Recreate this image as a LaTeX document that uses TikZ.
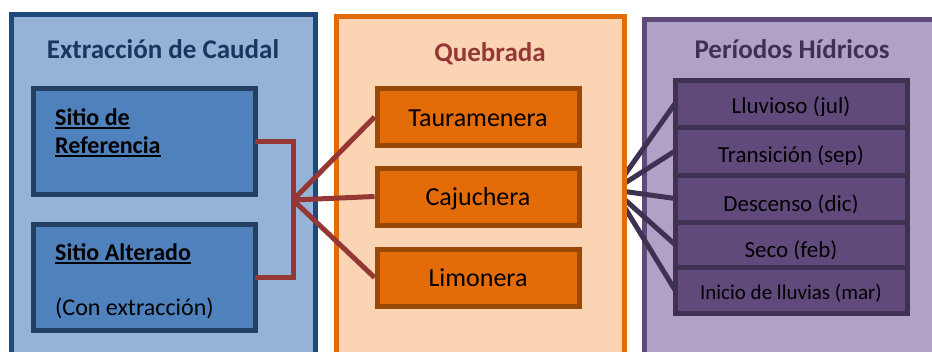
\documentclass[tikz,border=0pt]{standalone}
\usepackage{fontspec}
\setmainfont{Carlito}
\usetikzlibrary{positioning}

\definecolor{caudalfill}{HTML}{95B3D7}
\definecolor{caudalline}{HTML}{1F497D}
\definecolor{caudaltitle}{HTML}{17375E}
\definecolor{sitefill}{HTML}{4F81BD}
\definecolor{siteline}{HTML}{243F60}
\definecolor{quebfill}{HTML}{FBD4B4}
\definecolor{quebline}{HTML}{E36C09}
\definecolor{quebbox}{HTML}{984807}
\definecolor{quebtitle}{HTML}{953735}
\definecolor{redlink}{HTML}{953735}
\definecolor{perfill}{HTML}{B2A1C7}
\definecolor{perline}{HTML}{5F497A}
\definecolor{perbox}{HTML}{604A7B}
\definecolor{pertitle}{HTML}{3F3151}

% underline drawn as a rule below the baseline
\newcommand{\siteul}[1]{\setbox0\hbox{#1}\rlap{\rule[-4pt]{\wd0}{1.8pt}}\box0}

\begin{document}
\begin{tikzpicture}[x=1pt,y=-1pt,
    panel/.style={line width=5pt},
    paneltitle/.style={anchor=base, font=\bfseries\fontsize{27}{32}\selectfont},
    sitebox/.style={draw=siteline, fill=sitefill, line width=5pt, minimum width=222pt, minimum height=106pt, outer sep=0pt},
    sitetext/.style={anchor=base west, inner sep=0pt, font=\fontsize{24}{29}\selectfont},
    riverbox/.style={draw=quebbox, fill=quebline, line width=5pt, minimum width=202pt, minimum height=57pt,
      text height=18pt, text depth=0pt, font=\fontsize{26}{31}\selectfont},
    periodbox/.style={draw=pertitle, fill=perbox, line width=5pt, minimum width=232pt, outer sep=0pt},
    periodtext/.style={anchor=base, inner sep=0pt, font=\fontsize{23}{28}\selectfont},
    redwire/.style={draw=redlink, line width=5pt},
    purplewire/.style={draw=pertitle, line width=5pt}]

  \useasboundingbox (0,0) rectangle (932,351);
  \clip (0,0) rectangle (932,351);

  % Extraccion de caudal
  \draw[panel, draw=caudalline, fill=caudalfill] (11,14) rectangle (315,380);
  \node[paneltitle, text=caudaltitle] (ttlcaudal) at (163,58) {Extracción de Caudal};
  \node[sitebox] (ref) at (144,141) {};
  \node[sitebox] (alt) at (144,277) {};
  \node[sitetext, font=\bfseries\fontsize{24}{29}\selectfont] (refa) at (55,125) {\siteul{Sitio de}};
  \node[sitetext, font=\bfseries\fontsize{24}{29}\selectfont] (refb) at (55,153) {\siteul{Referencia}};
  \node[sitetext, font=\bfseries\fontsize{24}{29}\selectfont] (alta) at (55,260) {\siteul{Sitio Alterado}};
  \node[sitetext] (altb) at (55,315) {(Con extracción)};

  % Periodos hidricos
  \draw[panel, draw=perline, fill=perfill] (644,19) rectangle (950,380);
  \node[paneltitle, text=pertitle] (ttlper) at (792,58) {Períodos Hídricos};
  \node[periodbox, minimum height=47pt] (p1) at (791,103.5) {};
  \node[periodbox, minimum height=48pt, below=0pt of p1] (p2) {};
  \node[periodbox, minimum height=47pt, below=0pt of p2] (p3) {};
  \node[periodbox, minimum height=45pt, below=0pt of p3] (p4) {};
  \node[periodbox, minimum height=46pt, below=0pt of p4] (p5) {};
  \foreach \p/\off/\cut/\fs/\txt in {p1/10/12/23/Lluvioso (jul), p2/11/13/23/Transición (sep),
      p3/12.5/14/23/Descenso (dic), p4/12.5/14/23/Seco (feb), p5/9.5/12.5/21/Inicio de lluvias (mar)} {
    \begin{scope}
      \clip (\p.north west) rectangle ([yshift=-\cut pt]\p.east);
      \node[periodtext, font=\fontsize{\fs}{28}\selectfont] at ([yshift=-\off pt]\p.center) {\txt};
    \end{scope}
  }

  % Links to periods
  \coordinate (hubP) at (614,190);
  \foreach \p in {p1,p2,p3,p4,p5}
    \draw[purplewire] (hubP) -- (\p.west);

  % Quebrada
  \draw[panel, draw=quebline, fill=quebfill] (336,16) rectangle (624,380);
  \node[paneltitle, text=quebtitle] (ttlqueb) at (490,61) {Quebrada};
  \node[riverbox] (taur) at (478,117) {Tauramenera};
  \node[riverbox] (caju) at (478,196.5) {Cajuchera};
  \node[riverbox] (limo) at (478,277.5) {Limonera};

  % Links to streams
  \coordinate (hubR) at (293,200);
  \draw[redwire] (ref.east) -| (hubR) |- (alt.east);
  \draw[redwire] (hubR) -- (taur.west);
  \draw[redwire] (hubR) -- (caju.west);
  \draw[redwire] (hubR) -- (limo.west);
\end{tikzpicture}
\end{document}
